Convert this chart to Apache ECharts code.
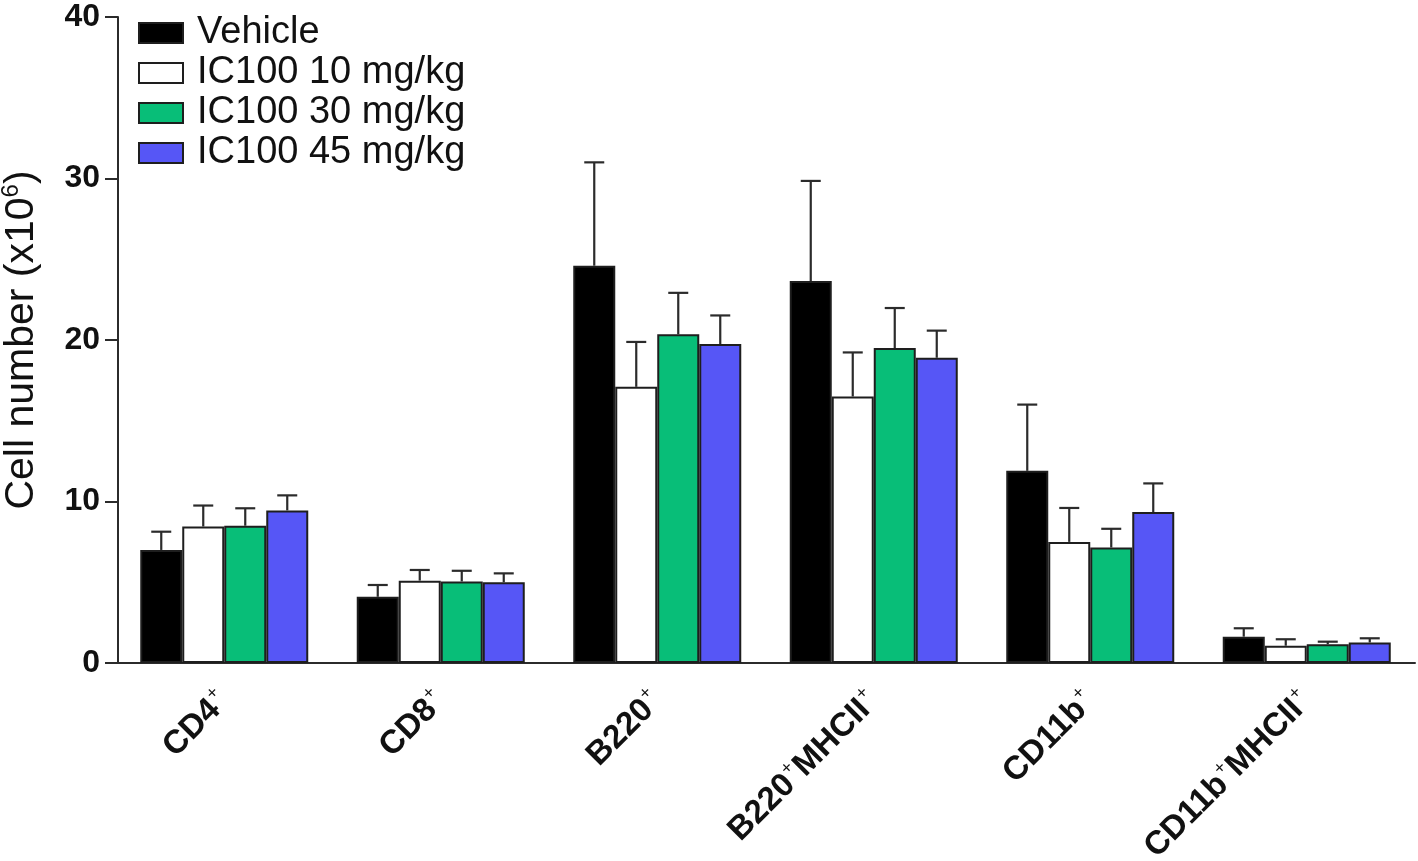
<!DOCTYPE html>
<html>
<head>
<meta charset="utf-8">
<script src="https://cdn.jsdelivr.net/npm/echarts@6/dist/echarts.min.js"></script>
<style>html,body{margin:0;padding:0;background:#fff}#c{width:1418px;height:861px}</style>
</head>
<body>
<div id="c"></div>
<script>
const categories = ['CD4+', 'CD8+', 'B220+', 'B220+MHCII+', 'CD11b+', 'CD11b+MHCII+'];
const seriesNames = ['Vehicle', 'IC100 10 mg/kg', 'IC100 30 mg/kg', 'IC100 45 mg/kg'];
const vehicle = [7.0, 4.1, 24.6, 23.65, 11.9, 1.63];
const ic10 = [8.45, 5.1, 17.1, 16.5, 7.5, 1.07];
const ic30 = [8.5, 5.05, 20.35, 19.5, 7.15, 1.16];
const ic45 = [9.45, 5.0, 19.75, 18.9, 9.35, 1.27];
const vehicleErr = [1.13, 0.73, 6.4, 6.2, 4.1, 0.52];
const ic10Err = [1.3, 0.66, 2.78, 2.73, 2.1, 0.4];
const ic30Err = [1.08, 0.66, 2.57, 2.48, 1.16, 0.16];
const ic45Err = [0.93, 0.55, 1.77, 1.68, 1.77, 0.26];
const yTicks = [0, 10, 20, 30, 40];

const values = [vehicle, ic10, ic30, ic45];
const errs = [vehicleErr, ic10Err, ic30Err, ic45Err];
const colors = ['#000000', '#ffffff', '#08be78', '#5656f6'];
const BAR_W = 42;
const FONT = '"Liberation Sans", Arial, Helvetica, sans-serif';

function supLabel(s) {
  const parts = s.split('+');
  let out = '';
  for (let i = 0; i < parts.length - 1; i++) {
    out += '{b|' + parts[i] + '}{s|+}';
  }
  if (parts[parts.length - 1]) out += '{b|' + parts[parts.length - 1] + '}';
  return out;
}

const chart = echarts.init(document.getElementById('c'), null, {renderer: 'canvas'});

const series = [];
seriesNames.forEach((name, i) => {
  series.push({
    name: name,
    type: 'bar',
    data: values[i],
    barWidth: BAR_W,
    barGap: '0%',
    itemStyle: {color: colors[i], borderColor: '#1e1e1e', borderWidth: 2},
    emphasis: {disabled: true},
    z: 2
  });
});
seriesNames.forEach((name, i) => {
  series.push({
    name: name + ' err',
    type: 'custom',
    data: values[i].map((v, k) => [k, v, errs[i][k]]),
    z: 3,
    silent: true,
    renderItem: function (params, api) {
      const k = api.value(0);
      const base = api.coord([k, api.value(1)]);
      const top = api.coord([k, api.value(1) + api.value(2)]);
      const x = base[0] + (i - 1.5) * BAR_W;
      const st = {stroke: '#2b2b2b', lineWidth: 2.2};
      return {
        type: 'group',
        children: [
          {type: 'line', shape: {x1: x, y1: base[1], x2: x, y2: top[1]}, style: st},
          {type: 'line', shape: {x1: x - 10, y1: top[1], x2: x + 10, y2: top[1]}, style: st}
        ]
      };
    }
  });
});

chart.setOption({
  animation: false,
  backgroundColor: '#fff',
  textStyle: {fontFamily: FONT},
  legend: {
    data: seriesNames.map(n => ({name: n, icon: 'rect'})),
    orient: 'vertical',
    left: 138,
    top: 13,
    padding: 0,
    itemWidth: 44,
    itemHeight: 20,
    itemGap: 0,
    selectedMode: false,
    textStyle: {fontSize: 38, color: '#111', fontFamily: FONT, lineHeight: 40, padding: [0, 0, 0, 9]}
  },
  grid: {left: 116, right: 3, top: 17, bottom: 198, containLabel: false, outerBoundsMode: 'none'},
  xAxis: {
    type: 'category',
    data: categories,
    boundaryGap: true,
    axisLine: {lineStyle: {color: '#2b2b2b', width: 2}},
    axisTick: {alignWithLabel: true, length: 12, lineStyle: {color: '#2b2b2b', width: 2}},
    axisLabel: {
      rotate: 45,
      margin: 33,
      interval: 0,
      formatter: supLabel,
      rich: {
        b: {fontSize: 33, fontWeight: 'bold', color: '#111', fontFamily: FONT, lineHeight: 38},
        s: {fontSize: 18, fontWeight: 'normal', color: '#111', fontFamily: FONT, verticalAlign: 'top', lineHeight: 38, padding: [0, 1, 18, 1]}
      }
    }
  },
  yAxis: {
    type: 'value',
    min: 0,
    max: 40,
    interval: 10,
    offset: -2,
    splitLine: {show: false},
    axisLine: {show: true, lineStyle: {color: '#2b2b2b', width: 2}},
    axisTick: {show: true, length: 13, lineStyle: {color: '#2b2b2b', width: 2}},
    axisLabel: {
      fontSize: 32, fontWeight: 'bold', color: '#111', fontFamily: FONT, margin: 18,
      formatter: v => yTicks.includes(v) ? String(v) : ''
    },
    name: '{t|Cell number (x10}{s|6}{t|)}',
    nameLocation: 'middle',
    nameRotate: 90,
    nameGap: 73,
    nameTextStyle: {
      rich: {
        t: {fontSize: 41, color: '#111', fontFamily: FONT, lineHeight: 46},
        s: {fontSize: 24, color: '#111', fontFamily: FONT, verticalAlign: 'top', lineHeight: 46, padding: [0, 0, 18, 0]}
      }
    }
  },
  series: series
});
</script>
</body>
</html>
